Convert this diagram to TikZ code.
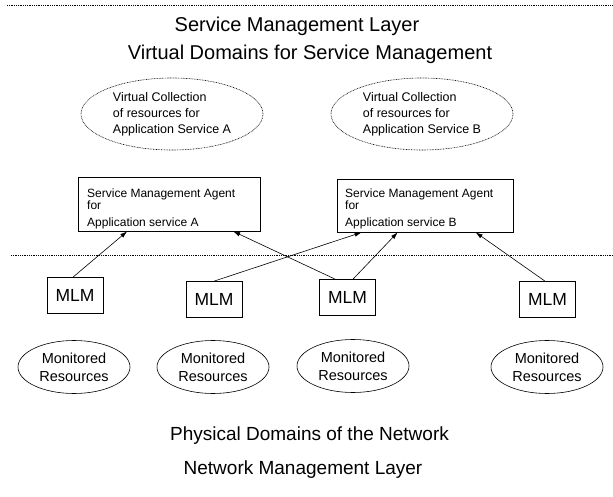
\documentclass[tikz,border=0pt]{standalone}
\usepackage{fontspec}
\setmainfont{Liberation Sans}
\usetikzlibrary{arrows.meta,shapes.geometric}
\begin{document}
\begin{tikzpicture}[x=1pt,y=-1pt,
  layer/.style={line width=0.7pt, dash pattern=on 0.9pt off 0.9pt},
  title/.style={font=\fontsize{20}{24}\selectfont, inner sep=0pt, anchor=base},
  subtitle/.style={font=\fontsize{19}{23}\selectfont, inner sep=0pt, anchor=base},
  vcoll/.style={ellipse, draw, dash pattern=on 0.8pt off 0.8pt, line width=0.6pt, minimum width=182pt, minimum height=72pt, inner sep=0pt, align=left, font=\fontsize{12.5}{16}\selectfont},
  agent/.style={draw, line width=0.7pt, inner sep=0pt},
  agenttext/.style={inner sep=0pt, anchor=north west, align=left, font=\fontsize{12}{14.5}\selectfont},
  mlm/.style={draw, line width=0.7pt, minimum width=56pt, minimum height=36pt, inner sep=0pt, font=\fontsize{17.5}{21}\selectfont},
  mres/.style={ellipse, draw, line width=0.6pt, minimum width=112pt, minimum height=53pt, inner sep=0pt, align=center, font=\fontsize{14.5}{18}\selectfont},
  link/.style={line width=0.6pt, -{Latex[length=7pt,width=4.5pt]}}
]
\useasboundingbox (0,0) rectangle (613,497);

% layer separators
\coordinate (t1) at (7,5);
\coordinate (t2) at (613,5);
\coordinate (s1) at (11,255.5);
\coordinate (s2) at (613,255.5);
\draw[layer] (t1) -- (t2);
\draw[layer] (s1) -- (s2);

% titles
\node[title] (h1) at (297,32) {Service Management Layer};
\node[title] (h2) at (310,60) {Virtual Domains for Service Management};

% virtual collections
\node[vcoll] (vA) at (172,114) {Virtual Collection\\of resources for\\Application Service A};
\node[vcoll] (vB) at (422,114) {Virtual Collection\\of resources for\\Application Service B};

% agents
\node[agent, minimum width=182pt, minimum height=54pt] (aA) at (169.5,204) {};
\node[agenttext] (tA) at (87,188.5) {Service Management Agent\\[-2pt]for\\[2pt]Application service A};
\node[agent, minimum width=176pt, minimum height=53pt] (aB) at (425,205.5) {};
\node[agenttext] (tB) at (345,188.5) {Service Management Agent\\[-2pt]for\\[2pt]Application service B};

% MLMs
\node[mlm] (m1) at (75,295.5) {MLM};
\node[mlm] (m2) at (214,299.5) {MLM};
\node[mlm] (m3) at (347.5,297.5) {MLM};
\node[mlm] (m4) at (547.5,299.5) {MLM};

% monitored resources
\node[mres] (r1) at (74,367) {Monitored\\Resources};
\node[mres] (r2) at (213,367) {Monitored\\Resources};
\node[mres] (r3) at (353,366) {Monitored\\Resources};
\node[mres] (r4) at (547,367) {Monitored\\Resources};

% bottom titles
\node[subtitle] (f1) at (309.5,440) {Physical Domains of the Network};
\node[subtitle] (f2) at (303,474) {Network Management Layer};

% connectors
\draw[link] ([xshift=-2pt]m1.north) -- ([xshift=49pt]aA.south west);
\draw[link] ([xshift=16pt]m3.north west) -- ([xshift=155pt]aA.south west);
\draw[link] (m2.north) -- ([xshift=25pt]aB.south west);
\draw[link] ([xshift=5.5pt]m3.north) -- ([xshift=61pt]aB.south west);
\draw[link] ([xshift=-2.5pt]m4.north) -- ([xshift=139pt]aB.south west);
\end{tikzpicture}
\end{document}
